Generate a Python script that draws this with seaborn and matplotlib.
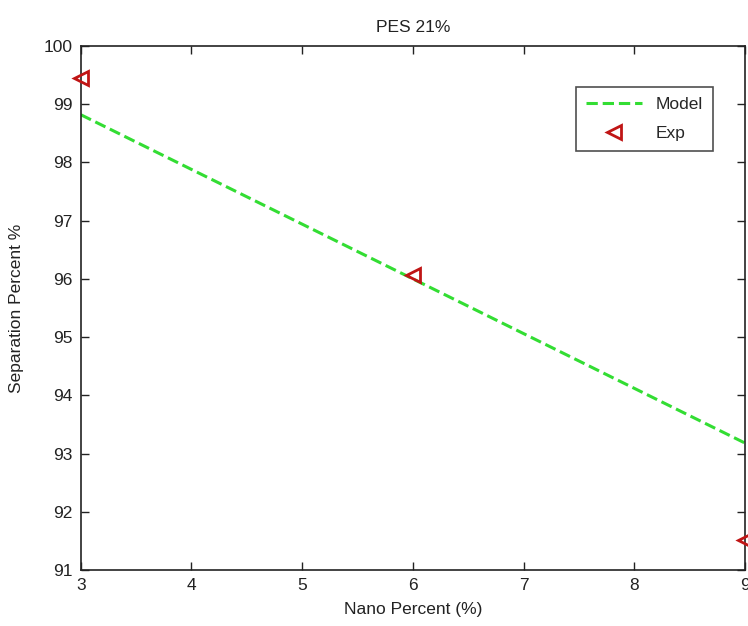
import matplotlib
matplotlib.use("Agg")
import matplotlib.pyplot as plt
import seaborn as sns
import pandas as pd

# model line and experimental points
nano_model = [3, 9]
sep_model = [98.82, 93.18]
nano_exp = [3, 6, 9]
sep_exp = [99.45, 96.07, 91.52]

sns.set_style("ticks")
plt.rcParams['font.family'] = ['Liberation Sans', 'DejaVu Sans']

fig = plt.figure(figsize=(7.48, 6.26), dpi=100)
ax = fig.add_axes([0.108, 0.0895, 0.888, 0.837])

model_df = pd.DataFrame({"x": nano_model, "y": sep_model})
exp_df = pd.DataFrame({"x": nano_exp, "y": sep_exp})

sns.lineplot(data=model_df, x="x", y="y", ax=ax, color="#33dd33",
             linestyle="--", linewidth=2.2, dashes=(4, 2.2), label="Model")
ax.plot(exp_df["x"], exp_df["y"], linestyle="none", marker="<", markersize=10,
        markerfacecolor="none", markeredgecolor="#c01515", markeredgewidth=2,
        label="Exp", clip_on=False, zorder=5)

ax.set_xlim(3, 9)
ax.set_ylim(91, 100)
ax.set_xticks(range(3, 10))
ax.set_yticks(range(91, 101))
ax.tick_params(direction="in", top=True, right=True, labelsize=12.5, length=6,
               width=1, colors="#222222", pad=6)
for s in ax.spines.values():
    s.set_visible(True)
    s.set_linewidth(1.2)
    s.set_color("#222222")

ax.set_xlabel("Nano Percent (%)", fontsize=12.5, color="#222222", labelpad=6)
ax.set_ylabel("Separation Percent %", fontsize=12.5, color="#222222", labelpad=14)
ax.set_title("PES 21%", fontsize=12.5, color="#222222", pad=10)

leg = ax.legend(loc="upper right", bbox_to_anchor=(0.952, 0.922), borderaxespad=0,
                fontsize=12.5, frameon=True, fancybox=False, edgecolor="#222222",
                handlelength=3.2, borderpad=0.6, labelspacing=0.75)
leg.get_frame().set_linewidth(1.2)

fig.savefig("out.png", dpi=100)
